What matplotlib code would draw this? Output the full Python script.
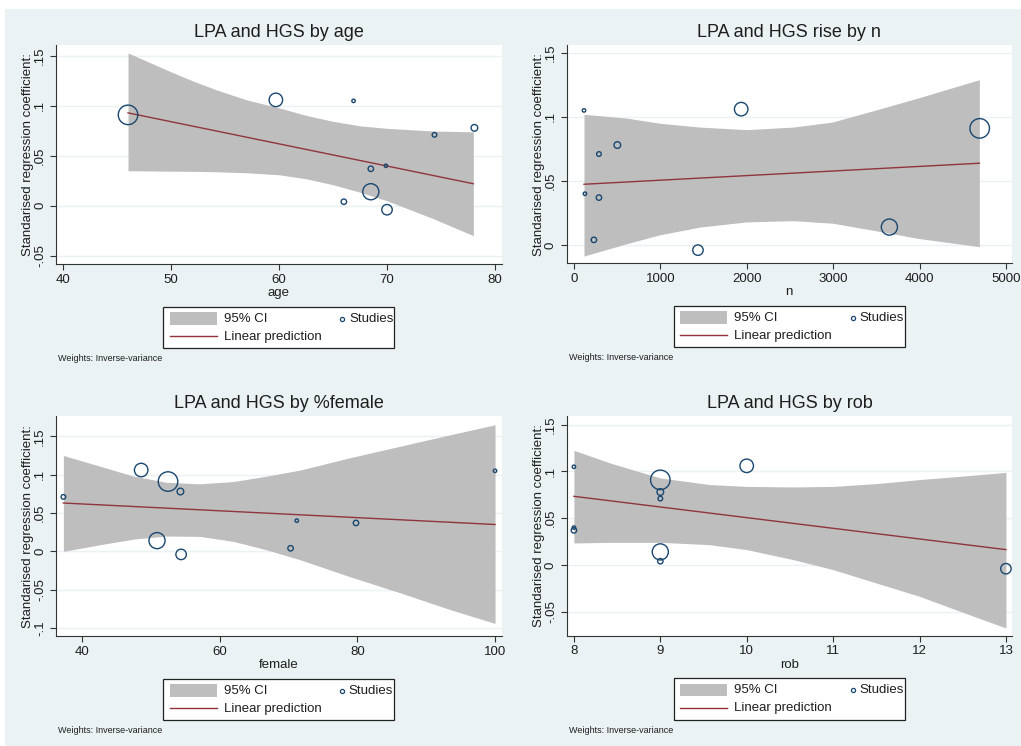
import matplotlib
matplotlib.use('Agg')
import matplotlib.pyplot as plt
from matplotlib.patches import Rectangle
from matplotlib.lines import Line2D

plt.rcParams['font.family'] = ['Liberation Sans', 'DejaVu Sans']

# study-level data
study_beta = [0.091, 0.106, 0.105, 0.071, 0.078, 0.037, 0.040, 0.014, 0.004, -0.004]
study_weight = [94, 45, 2.9, 5.3, 11, 7.3, 2.9, 64, 7.3, 27]
study_age = [46.0, 59.7, 66.9, 74.4, 78.1, 68.5, 69.9, 68.5, 66.0, 70.0]
study_n = [4695, 1935, 116, 289, 502, 289, 127, 3650, 231, 1435]
study_female = [52.5, 48.6, 100, 37.3, 54.3, 79.8, 71.2, 50.9, 70.3, 54.4]
study_rob = [9, 10, 8, 9, 9, 8, 8, 9, 9, 13]

# 95% CI bands and linear predictions
age_grid = [46, 48, 50, 52, 54.2, 57, 60, 62.5, 65, 67.5, 70, 74.3, 78]
age_upper = [0.153, 0.1435, 0.134, 0.125, 0.116, 0.106, 0.098, 0.0905, 0.0845, 0.080, 0.0775, 0.0748, 0.074]
age_lower = [0.035, 0.0348, 0.0346, 0.0344, 0.034, 0.033, 0.031, 0.027, 0.021, 0.0135, 0.005, -0.013, -0.030]
age_fit_x = [46, 78]
age_fit_y = [0.093, 0.022]

n_grid = [116, 610, 995, 1458, 1994, 2538, 2994, 3503, 3997, 4691]
n_upper = [0.102, 0.099, 0.095, 0.092, 0.090, 0.092, 0.096, 0.1055, 0.115, 0.129]
n_lower = [-0.0086, 0.001, 0.008, 0.014, 0.018, 0.019, 0.017, 0.011, 0.005, -0.0013]
n_fit_x = [116, 4691]
n_fit_y = [0.0474, 0.0638]

female_grid = [37.3, 42.6, 47.5, 52.3, 57.1, 62.0, 66.8, 71.7, 78.9, 86.2, 93.5, 100]
female_upper = [0.125, 0.111, 0.098, 0.090, 0.088, 0.091, 0.098, 0.106, 0.122, 0.137, 0.152, 0.165]
female_lower = [0.0, 0.0086, 0.016, 0.020, 0.0195, 0.013, 0.002, -0.011, -0.033, -0.054, -0.076, -0.094]
female_fit_x = [37.3, 100]
female_fit_y = [0.063, 0.035]

rob_grid = [8.0, 8.42, 9.0, 9.57, 10.0, 10.54, 11.0, 11.5, 12.0, 12.47, 13.0]
rob_upper = [0.1226, 0.109, 0.093, 0.086, 0.084, 0.0834, 0.084, 0.087, 0.0913, 0.0948, 0.099]
rob_lower = [0.0235, 0.0242, 0.0242, 0.0217, 0.0164, 0.0057, -0.005, -0.0193, -0.0335, -0.0496, -0.0674]
rob_fit_x = [8, 13]
rob_fit_y = [0.0734, 0.0164]

BG = '#EAF2F3'
BAND = '#BEBEBE'
FIT = '#90353B'
NAVY = '#1A476F'
TXT = '#1E1E1E'
W, H = 1021, 746


def ylab(v):
    if v == 0:
        return '0'
    return ('%g' % v).replace('0.', '.')


def px(x, y):
    # pixel position (from top-left) -> figure fraction
    return x / W, 1 - y / H


panels = [
    dict(title='LPA and HGS by age', xlabel='age', x=study_age,
         grid=age_grid, up=age_upper, lo=age_lower, fx=age_fit_x, fy=age_fit_y,
         xlim=(39.32, 80.65), ylim=(-0.0587, 0.161),
         xticks=[40, 50, 60, 70, 80], yticks=[-0.05, 0, 0.05, 0.1, 0.15],
         pos=[0.0548, 0.6457, 0.4368, 0.294]),
    dict(title='LPA and HGS rise by n', xlabel='n', x=study_n,
         grid=n_grid, up=n_upper, lo=n_lower, fx=n_fit_x, fy=n_fit_y,
         xlim=(-84.5, 5069), ylim=(-0.0143, 0.156),
         xticks=[0, 1000, 2000, 3000, 4000, 5000], yticks=[0, 0.05, 0.1, 0.15],
         pos=[0.555, 0.647, 0.4362, 0.2926]),
    dict(title='LPA and HGS by %female', xlabel='female', x=study_female,
         grid=female_grid, up=female_upper, lo=female_lower, fx=female_fit_x, fy=female_fit_y,
         xlim=(36.22, 100.97), ylim=(-0.1108, 0.176),
         xticks=[40, 60, 80, 100], yticks=[-0.1, -0.05, 0, 0.05, 0.1, 0.15],
         pos=[0.0548, 0.147, 0.4366, 0.2949]),
    dict(title='LPA and HGS by rob', xlabel='rob', x=study_rob,
         grid=rob_grid, up=rob_upper, lo=rob_lower, fx=rob_fit_x, fy=rob_fit_y,
         xlim=(7.916, 13.073), ylim=(-0.0756, 0.159),
         xticks=[8, 9, 10, 11, 12, 13], yticks=[-0.05, 0, 0.05, 0.1, 0.15],
         pos=[0.555, 0.1479, 0.4364, 0.2941]),
]

fig = plt.figure(figsize=(W / 100, H / 100), dpi=100)
fig.patch.set_facecolor('white')
fig.patches.append(Rectangle((5 / W, 0), 1, (H - 9) / H, transform=fig.transFigure,
                             facecolor=BG, edgecolor='none', zorder=-10))

sizes = [w * 2.1 for w in study_weight]

for p in panels:
    ax = fig.add_axes(p['pos'])
    ax.set_facecolor('white')
    for yt in p['yticks']:
        ax.axhline(yt, color=BG, lw=1.0, zorder=0)
    ax.fill_between(p['grid'], p['lo'], p['up'], color=BAND, lw=0, zorder=1)
    ax.plot(p['fx'], p['fy'], color=FIT, lw=1.0, zorder=2)
    ax.scatter(p['x'], study_beta, s=sizes, facecolors='none', edgecolors=NAVY,
               linewidths=1.0, zorder=3)
    ax.set_xlim(p['xlim'])
    ax.set_ylim(p['ylim'])
    ax.set_xticks(p['xticks'])
    ax.set_yticks(p['yticks'])
    ax.set_yticklabels([ylab(v) for v in p['yticks']], rotation=90, va='center')
    ax.tick_params(direction='out', length=4, width=0.8, colors='#333333',
                   labelsize=9.5, labelcolor=TXT, pad=3)
    for side in ['top', 'right']:
        ax.spines[side].set_visible(False)
    for side in ['left', 'bottom']:
        ax.spines[side].set_color('#333333')
        ax.spines[side].set_linewidth(0.8)
    ax.set_title(p['title'], fontsize=13, color=TXT, pad=6)
    ax.set_xlabel(p['xlabel'], fontsize=9.5, color=TXT, labelpad=1)
    ax.set_ylabel('Standarised regression coefficient:', fontsize=9.5, color=TXT, labelpad=0)

    # Stata-style legend box below the plot
    l, b, w, h = p['pos']
    cx = (l + w / 2) * W
    btm = (1 - b) * H
    x0, y0 = px(cx - 115.5, btm + 84)
    x1, y1 = px(cx + 115.5, btm + 42.5)
    fig.patches.append(Rectangle((x0, y0), x1 - x0, y1 - y0, transform=fig.transFigure,
                                 facecolor='white', edgecolor='#222222', lw=0.9, zorder=5))
    a0, c0 = px(cx - 109, btm + 60.5)
    a1, c1 = px(cx - 62, btm + 48)
    fig.patches.append(Rectangle((a0, c0), a1 - a0, c1 - c0, transform=fig.transFigure,
                                 facecolor=BAND, edgecolor='none', zorder=6))
    la, ly = px(cx - 109, btm + 72)
    lb, _ = px(cx - 62, btm + 72)
    fig.add_artist(Line2D([la, lb], [ly, ly], transform=fig.transFigure, color=FIT, lw=1.0, zorder=6))
    mx, my = px(cx + 63.5, btm + 54.5)
    fig.add_artist(Line2D([mx], [my], transform=fig.transFigure, marker='o', ls='none',
                          markersize=3, markerfacecolor='none', markeredgecolor=NAVY,
                          markeredgewidth=0.9, zorder=6))
    tx, ty = px(cx - 55, btm + 54.5)
    fig.text(tx, ty, '95% CI', fontsize=9.5, color=TXT, va='center', ha='left', zorder=7)
    tx, ty = px(cx - 55, btm + 72.5)
    fig.text(tx, ty, 'Linear prediction', fontsize=9.5, color=TXT, va='center', ha='left', zorder=7)
    tx, ty = px(cx + 70, btm + 54.5)
    fig.text(tx, ty, 'Studies', fontsize=9.5, color=TXT, va='center', ha='left', zorder=7)

    ax.text(0.005, -0.43, 'Weights: Inverse-variance', transform=ax.transAxes,
            fontsize=6.5, color=TXT, va='center', ha='left')

fig.savefig('out.png', dpi=100)
